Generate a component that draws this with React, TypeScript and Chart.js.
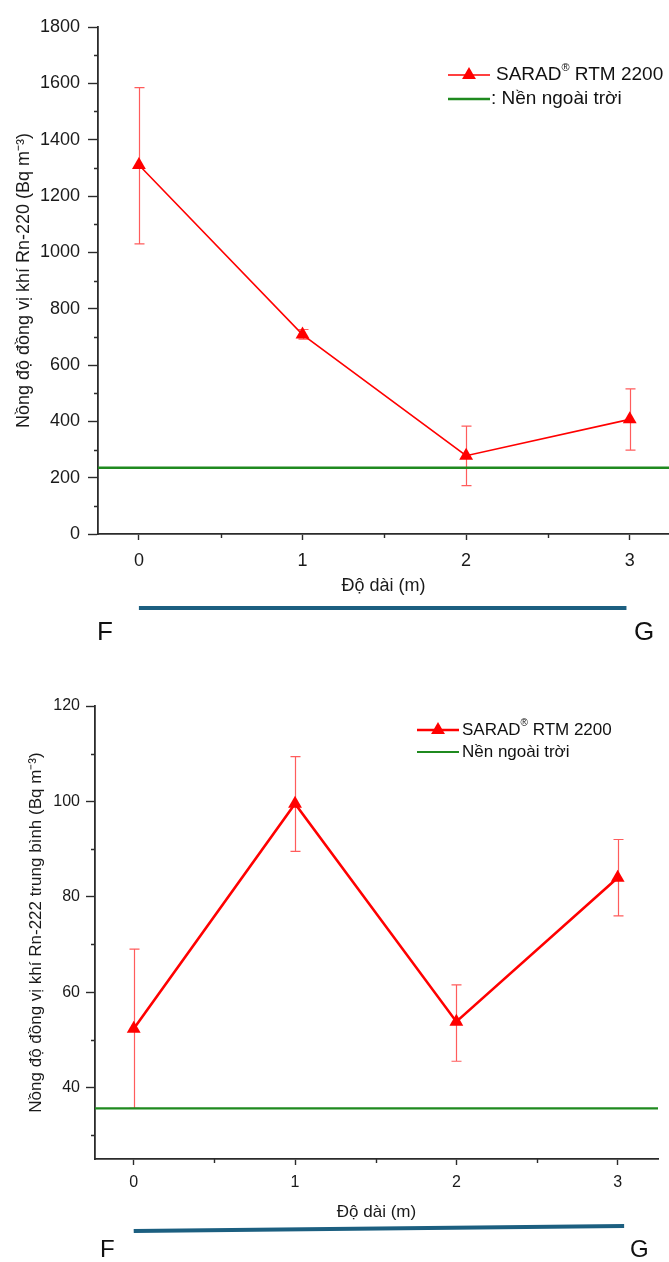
import React, { useEffect, useRef } from 'react';
import { Chart, registerables } from 'chart.js';

Chart.register(...registerables);

const FONT = '"Liberation Sans", Arial, Helvetica, sans-serif';

// ---------- data ----------
const distances = [0, 1, 2, 3];

const rn220Mean = [1310, 708, 278, 407];
const rn220Low = [1030, 692, 172, 298];
const rn220High = [1585, 726, 383, 515];
const rn220Outdoor = 235;

const rn222Mean = [52.3, 99.5, 53.8, 84.0];
const rn222Low = [35.6, 89.5, 45.5, 76.0];
const rn222High = [69.0, 109.4, 61.5, 92.0];
const rn222Outdoor = 35.6;

const xMajorTicks = [0, 1, 2, 3];
const xMinorTicks = [0.5, 1.5, 2.5];
const rn220YMajor = [0, 200, 400, 600, 800, 1000, 1200, 1400, 1600, 1800];
const rn220YMinor = [100, 300, 500, 700, 900, 1100, 1300, 1500, 1700];
const rn222YMajor = [40, 60, 80, 100, 120];
const rn222YMinor = [30, 50, 70, 90, 110];

const seriesLabel = 'SARAD® RTM 2200';
const outdoorLabelTop = ': Nền ngoài trời';
const outdoorLabelBottom = 'Nền ngoài trời';
const xTitle = 'Độ dài (m)';
const yTitleTop = 'Nồng độ đồng vị khí Rn-220 (Bq m⁻³)';
const yTitleBottom = 'Nồng độ đồng vị khí Rn-222 trung bình (Bq m⁻³)';
const startLabel = 'F';
const endLabel = 'G';

const RED = '#ff0000';
const ERR = '#ff5c5c';
const GREEN = '#1f8a1f';
const AXIS = '#2b2b2b';
const BAR = '#1c5f80';

// ---------- overlay plugin (error bars, minor ticks, legend, F–G bar) ----------
const overlayPlugin = {
  id: 'overlay',
  beforeDatasetsDraw(chart: any, _a: any, o: any) {
    const { ctx } = chart;
    const xs = chart.scales.x;
    const ys = chart.scales.y;
    ctx.save();
    ctx.strokeStyle = ERR;
    ctx.lineWidth = 1.2;
    o.xValues.forEach((xv: number, i: number) => {
      const px = Math.round(xs.getPixelForValue(xv)) + 0.5;
      const lo = ys.getPixelForValue(o.low[i]);
      const hi = ys.getPixelForValue(o.high[i]);
      ctx.beginPath();
      ctx.moveTo(px, lo);
      ctx.lineTo(px, hi);
      ctx.moveTo(px - o.cap, lo);
      ctx.lineTo(px + o.cap, lo);
      ctx.moveTo(px - o.cap, hi);
      ctx.lineTo(px + o.cap, hi);
      ctx.stroke();
    });
    ctx.restore();
  },
  afterDraw(chart: any, _a: any, o: any) {
    const { ctx } = chart;
    const xs = chart.scales.x;
    const ys = chart.scales.y;
    const area = chart.chartArea;
    ctx.save();
    // minor ticks
    ctx.strokeStyle = AXIS;
    ctx.lineWidth = 1.4;
    ctx.beginPath();
    o.xMinor.forEach((v: number) => {
      const px = Math.round(xs.getPixelForValue(v)) + 0.5;
      ctx.moveTo(px, area.bottom);
      ctx.lineTo(px, area.bottom + o.minorLen);
    });
    o.yMinor.forEach((v: number) => {
      const py = Math.round(ys.getPixelForValue(v)) + 0.5;
      ctx.moveTo(area.left, py);
      ctx.lineTo(area.left - o.minorLen, py);
    });
    ctx.stroke();

    // legend
    const ds = chart.data.datasets;
    const lg = o.legend;
    ctx.font = `${lg.fontSize}px ${FONT}`;
    ctx.textBaseline = 'middle';
    ctx.textAlign = 'left';
    ctx.strokeStyle = ds[0].borderColor;
    ctx.lineWidth = ds[0].borderWidth;
    ctx.beginPath();
    ctx.moveTo(lg.x, lg.y1);
    ctx.lineTo(lg.x + lg.len, lg.y1);
    ctx.stroke();
    const cx = lg.x + lg.len / 2;
    const r = lg.marker;
    ctx.fillStyle = RED;
    ctx.beginPath();
    ctx.moveTo(cx, lg.y1 - r);
    ctx.lineTo(cx + r * 0.866, lg.y1 + r / 2);
    ctx.lineTo(cx - r * 0.866, lg.y1 + r / 2);
    ctx.closePath();
    ctx.fill();
    ctx.fillStyle = '#111';
    const label: string = ds[0].label;
    const idx = label.indexOf('®');
    const partA = label.slice(0, idx);
    const partB = label.slice(idx + 1);
    let tx = lg.x + lg.len + lg.gap;
    ctx.fillText(partA, tx, lg.y1);
    tx += ctx.measureText(partA).width;
    ctx.font = `${Math.round(lg.fontSize * 0.6)}px ${FONT}`;
    ctx.fillText('®', tx, lg.y1 - lg.fontSize * 0.38);
    tx += ctx.measureText('®').width;
    ctx.font = `${lg.fontSize}px ${FONT}`;
    ctx.fillText(partB, tx, lg.y1);
    ctx.strokeStyle = ds[1].borderColor;
    ctx.lineWidth = ds[1].borderWidth;
    ctx.beginPath();
    ctx.moveTo(lg.x, lg.y2);
    ctx.lineTo(lg.x + lg.len, lg.y2);
    ctx.stroke();
    ctx.fillText(ds[1].label, lg.x + lg.len + lg.gap2, lg.y2);

    // F–G bar
    const b = o.bar;
    ctx.strokeStyle = BAR;
    ctx.lineWidth = 4;
    ctx.beginPath();
    ctx.moveTo(xs.getPixelForValue(b.from), b.y0);
    ctx.lineTo(xs.getPixelForValue(b.to), b.y1);
    ctx.stroke();
    ctx.fillStyle = '#111';
    ctx.font = `${b.fontSize}px ${FONT}`;
    ctx.textBaseline = 'middle';
    ctx.fillText(startLabel, b.fx, b.labelY);
    ctx.fillText(endLabel, b.gx, b.labelY);
    ctx.restore();
  },
};

type Spec = {
  width: number;
  height: number;
  area: { left: number; top: number; right: number; bottom: number };
  xMin: number;
  xMax: number;
  yMin: number;
  yMax: number;
  mean: number[];
  low: number[];
  high: number[];
  outdoor: number;
  yMajor: number[];
  yMinor: number[];
  yTitle: string;
  outdoorLabel: string;
  lineWidth: number;
  greenWidth: number;
  pointRadius: number;
  tickFont: number;
  xTitleFont: number;
  yTitleFont: number;
  xTickPad: number;
  xTitlePad: number;
  yTitlePad: number;
  yTickPad: number;
  yTickLen: number;
  legend: any;
  bar: any;
};

function buildConfig(s: Spec): any {
  return {
    type: 'line',
    data: {
      datasets: [
        {
          label: seriesLabel,
          data: distances.map((d, i) => ({ x: d, y: s.mean[i] })),
          borderColor: RED,
          backgroundColor: RED,
          borderWidth: s.lineWidth,
          pointStyle: 'triangle',
          pointRadius: s.pointRadius,
          pointBorderWidth: 0,
          pointBackgroundColor: RED,
          tension: 0,
          clip: 12,
          order: 0,
        },
        {
          label: s.outdoorLabel,
          data: [
            { x: s.xMin, y: s.outdoor },
            { x: s.xMax, y: s.outdoor },
          ],
          borderColor: GREEN,
          backgroundColor: GREEN,
          borderWidth: s.greenWidth,
          pointRadius: 0,
          order: 1,
        },
      ],
    },
    options: {
      animation: false,
      responsive: false,
      maintainAspectRatio: false,
      layout: {
        autoPadding: false,
        padding: { top: s.area.top, right: s.width - s.area.right, left: 0, bottom: 0 },
      },
      plugins: {
        legend: { display: false },
        tooltip: { enabled: false },
        overlay: {
          xValues: distances,
          low: s.low,
          high: s.high,
          cap: 5,
          xMinor: xMinorTicks,
          yMinor: s.yMinor,
          minorLen: 4,
          legend: s.legend,
          bar: s.bar,
        },
      },
      scales: {
        x: {
          type: 'linear',
          min: s.xMin,
          max: s.xMax,
          afterBuildTicks: (sc: any) => {
            sc.ticks = xMajorTicks.map((v) => ({ value: v }));
          },
          afterFit: (sc: any) => {
            sc.height = s.height - s.area.bottom;
            sc.paddingLeft = 0;
            sc.paddingRight = 0;
          },
          grid: {
            display: true,
            drawOnChartArea: false,
            drawTicks: true,
            tickLength: 6,
            tickColor: AXIS,
            tickWidth: 1.4,
          },
          border: { display: true, color: AXIS, width: 1.8 },
          ticks: {
            color: '#1a1a1a',
            font: { family: FONT, size: s.tickFont },
            padding: s.xTickPad,
            maxRotation: 0,
            autoSkip: false,
            callback: (v: number) => String(v),
          },
          title: {
            display: true,
            text: xTitle,
            color: '#1a1a1a',
            font: { family: FONT, size: s.xTitleFont },
            padding: { top: 0, bottom: s.xTitlePad },
          },
        },
        y: {
          type: 'linear',
          min: s.yMin,
          max: s.yMax,
          afterBuildTicks: (sc: any) => {
            sc.ticks = s.yMajor.map((v) => ({ value: v }));
          },
          afterFit: (sc: any) => {
            sc.width = s.area.left;
            sc.paddingTop = 0;
            sc.paddingBottom = 0;
          },
          grid: {
            display: true,
            drawOnChartArea: false,
            drawTicks: true,
            tickLength: s.yTickLen,
            tickColor: AXIS,
            tickWidth: 1.4,
          },
          border: { display: true, color: AXIS, width: 1.8 },
          ticks: {
            color: '#1a1a1a',
            font: { family: FONT, size: s.tickFont },
            padding: s.yTickPad,
            autoSkip: false,
            callback: (v: number) => String(v),
          },
          title: {
            display: true,
            text: s.yTitle,
            color: '#1a1a1a',
            font: { family: FONT, size: s.yTitleFont },
            padding: { top: s.yTitlePad, bottom: 0 },
          },
        },
      },
    },
    plugins: [overlayPlugin],
  };
}

const topSpec: Spec = {
  width: 669,
  height: 660,
  area: { left: 98, top: 27, right: 669, bottom: 534 },
  xMin: -0.25,
  xMax: 3.24,
  yMin: 0,
  yMax: 1800,
  mean: rn220Mean,
  low: rn220Low,
  high: rn220High,
  outdoor: rn220Outdoor,
  yMajor: rn220YMajor,
  yMinor: rn220YMinor,
  yTitle: yTitleTop,
  outdoorLabel: outdoorLabelTop,
  lineWidth: 1.6,
  greenWidth: 2.5,
  pointRadius: 8,
  tickFont: 18,
  xTitleFont: 18,
  yTitleFont: 18,
  xTickPad: 10,
  xTitlePad: 63,
  yTitlePad: 13,
  yTickPad: 8,
  yTickLen: 10,
  legend: { x: 448, y1: 75, y2: 99, len: 42, gap: 6, gap2: 1, marker: 8, fontSize: 19 },
  bar: { from: 0, to: 2.98, y0: 608, y1: 608, fx: 97, gx: 634, labelY: 633, fontSize: 26 },
};

const bottomSpec: Spec = {
  width: 669,
  height: 602,
  area: { left: 95, top: 46, right: 658, bottom: 499 },
  xMin: -0.24,
  xMax: 3.25,
  yMin: 25,
  yMax: 120,
  mean: rn222Mean,
  low: rn222Low,
  high: rn222High,
  outdoor: rn222Outdoor,
  yMajor: rn222YMajor,
  yMinor: rn222YMinor,
  yTitle: yTitleBottom,
  outdoorLabel: outdoorLabelBottom,
  lineWidth: 2.6,
  greenWidth: 2.2,
  pointRadius: 8,
  tickFont: 16,
  xTitleFont: 17,
  yTitleFont: 17,
  xTickPad: 8,
  xTitlePad: 39,
  yTitlePad: 26,
  yTickPad: 6,
  yTickLen: 9,
  legend: { x: 417, y1: 70, y2: 92, len: 42, gap: 3, gap2: 3, marker: 8, fontSize: 17 },
  bar: { from: 0, to: 3.04, y0: 571, y1: 566, fx: 100, gx: 630, labelY: 590, fontSize: 24 },
};

function ChartCanvas({ spec }: { spec: Spec }) {
  const ref = useRef<HTMLCanvasElement | null>(null);
  useEffect(() => {
    if (!ref.current) return;
    const chart = new Chart(ref.current, buildConfig(spec));
    return () => chart.destroy();
  }, [spec]);
  return (
    <canvas
      ref={ref}
      width={spec.width}
      height={spec.height}
      style={{ display: 'block', width: spec.width, height: spec.height }}
    />
  );
}

export default function App() {
  return (
    <div
      style={{
        position: 'absolute',
        left: 0,
        top: 0,
        width: 669,
        height: 1262,
        background: '#ffffff',
        overflow: 'hidden',
      }}
    >
      <ChartCanvas spec={topSpec} />
      <ChartCanvas spec={bottomSpec} />
    </div>
  );
}
